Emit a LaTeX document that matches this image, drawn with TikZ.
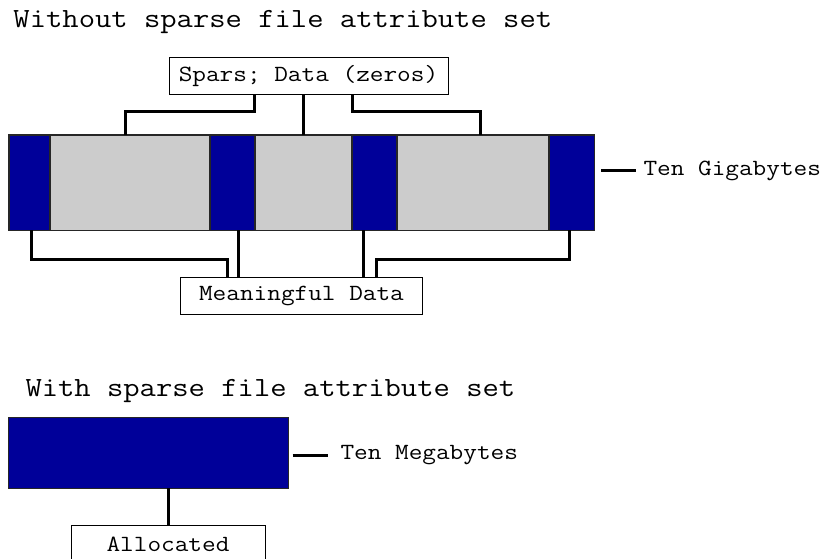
\documentclass[tikz,border=0pt]{standalone}
\usepackage{fontspec}
\setmonofont{Latin Modern Mono}[FakeStretch=1.143]
\usetikzlibrary{positioning,calc}

\definecolor{barblue}{RGB}{0,0,153}
\definecolor{bargray}{RGB}{204,204,204}

\tikzset{every picture/.style={line width=0.75pt}}
\tikzset{
  titletext/.style={inner sep=0pt, anchor=base west, font=\ttfamily\fontsize{20.8}{24}\selectfont},
  labeltext/.style={inner sep=0pt, font=\ttfamily\fontsize{17.4}{21}\selectfont},
  labelbox/.style={labeltext, draw, fill=white, minimum height=28pt},
  usedblock/.style={draw=black!85, fill=barblue, line width=1pt, minimum height=71.6pt, inner sep=0pt, outer sep=0pt},
  zeroblock/.style={usedblock, fill=bargray},
  conn/.style={line width=2.25pt},
}

\begin{document}
\begin{tikzpicture}[x=0.75pt,y=0.75pt,yscale=-1,xscale=1]
        \useasboundingbox (0,0) rectangle (828,559);

        % Text Node
        \node[titletext] (title1) at (13,27.3) {Without sparse file attribute set};

        %Shape: Rectangles [bar, ten gigabytes]
        \node[usedblock, minimum width=30.75pt, anchor=north west] (b1) at (9,135) {};
        \node[zeroblock, minimum width=120pt, right=0pt of b1] (g1) {};
        \node[usedblock, minimum width=33.75pt, right=0pt of g1] (b2) {};
        \node[zeroblock, minimum width=72.75pt, right=0pt of b2] (g2) {};
        \node[usedblock, minimum width=33.75pt, right=0pt of g2] (b3) {};
        \node[zeroblock, minimum width=114pt, right=0pt of b3] (g3) {};
        \node[usedblock, minimum width=34.3pt, right=0pt of g3] (b4) {};

        % Text Node
        \node[labelbox, minimum width=209.25pt] (sparse) at (308.5,75.7) {Spars; Data (zeros)};
        % Text Node
        \node[labelbox, minimum width=181.2pt] (mean) at (301.5,296) {Meaningful Data};

        %Straight Lines [sparse data]
        \draw[conn] ($(sparse.south)+(-54.5,0)$) -- ++(0,16.5) -| ($(g1.north)+(-5,0)$);
        \draw[conn] (sparse.south -| g2.north) -- (g2.north);
        \draw[conn] ($(sparse.south)+(44.2,0)$) -- ++(0,16.5) -| ($(g3.north)+(7,0)$);

        %Straight Lines [meaningful data]
        \path ($(b2.south)+(6,0)$) coordinate (d2) ($(b3.south)+(-11,0)$) coordinate (d3);
        \draw[conn] ($(b1.south)+(2,0)$) -- ++(0,29) -| ($(mean.north)+(-74.2,0)$);
        \draw[conn] (d2) -- (d2 |- mean.north);
        \draw[conn] (d3) -- (d3 |- mean.north);
        \draw[conn] ($(b4.south)+(-2,0)$) -- ++(0,29) -| ($(mean.north)+(75.2,0)$);

        % Text Node
        \node[labeltext, anchor=west] (giga) at (643,171) {Ten Gigabytes};
        \coordinate (gt) at (601,171);
        \draw[conn] (gt) -- ($(giga.west)+(-7,0)$);

        % Text Node
        \node[titletext] (title2) at (25,397) {With sparse file attribute set};

        %Shape: Rectangle [ten megabytes]
        \node[usedblock, minimum width=210.3pt, minimum height=52.95pt, anchor=north west] (small) at (8.3,417.7) {};

        % Text Node
        \node[labeltext, anchor=west] (mega) at (340,455.5) {Ten Megabytes};
        \coordinate (mt) at (292.7,455.5);
        \draw[conn] (mt) -- ($(mega.west)+(-11.7,0)$);

        % Text Node
        \node[labelbox, minimum width=145.5pt, anchor=north] (alloc) at (168,525) {Allocated};
        \draw[conn] (alloc.north) -- (alloc.north |- small.south);

\end{tikzpicture}
\end{document}
